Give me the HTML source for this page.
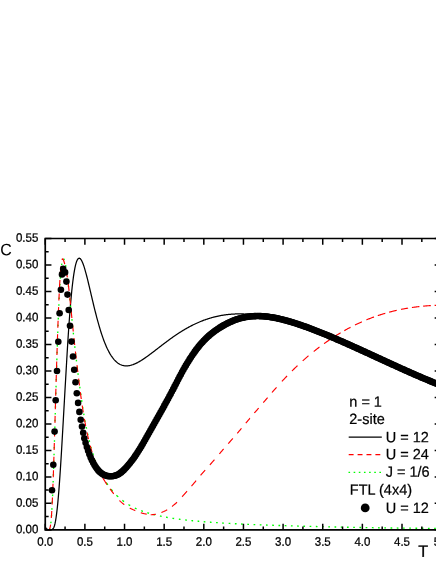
<!DOCTYPE html><html><head><meta charset="utf-8"><title>C vs T</title><style>
html,body{margin:0;padding:0;background:#fff}body{width:436px;height:564px;position:relative;overflow:hidden;font-family:"Liberation Sans",sans-serif;color:#000}
svg text{font-family:"Liberation Sans",sans-serif;fill:#000}
</style></head><body>
<svg width="436" height="564" viewBox="0 0 436 564" style="position:absolute;left:0;top:0"><rect x="0" y="0" width="436" height="564" fill="#fff"/><path d="M45.33,529.85 L46.90,529.85 L48.46,529.85 L50.03,529.85 L51.59,529.71 L51.59,529.71 L52.15,529.51 L52.71,529.14 L53.27,528.49 L53.82,527.47 L54.38,525.98 L54.94,523.91 L55.50,521.19 L56.06,517.74 L56.61,513.64 L57.17,508.96 L57.73,503.57 L58.29,497.49 L58.85,490.75 L59.40,483.39 L59.96,475.47 L60.52,467.04 L61.08,458.19 L61.64,448.98 L62.19,439.48 L62.75,429.78 L63.31,419.95 L63.87,410.06 L64.43,400.18 L64.98,390.38 L65.54,380.71 L66.10,370.99 L66.66,361.21 L67.22,351.74 L67.78,342.65 L68.33,333.97 L68.89,325.73 L69.45,317.96 L70.01,310.67 L70.57,303.87 L71.12,297.58 L71.68,291.79 L72.24,286.52 L72.80,281.74 L73.36,277.45 L73.91,273.64 L74.47,270.30 L75.03,267.41 L75.59,264.95 L76.15,262.90 L76.70,261.25 L77.26,259.98 L77.82,259.06 L78.38,258.47 L78.94,258.19 L79.49,258.20 L80.05,258.48 L80.61,259.02 L81.17,259.78 L81.73,260.75 L82.28,261.92 L82.84,263.27 L83.40,264.77 L83.96,266.41 L84.52,268.18 L85.07,270.07 L85.63,272.05 L86.19,274.12 L86.75,276.26 L87.31,278.46 L87.86,280.72 L88.42,283.02 L88.98,285.34 L89.54,287.70 L90.10,290.07 L90.65,292.44 L91.21,294.82 L91.77,297.20 L92.33,299.56 L92.89,301.91 L93.44,304.24 L94.00,306.54 L94.56,308.81 L95.12,311.06 L95.68,313.26 L96.23,315.43 L96.79,317.56 L97.35,319.65 L97.91,321.69 L98.47,323.69 L99.02,325.64 L99.58,327.54 L100.14,329.40 L100.70,331.20 L101.26,332.95 L101.81,334.65 L102.37,336.30 L102.93,337.90 L103.49,339.44 L104.05,340.94 L104.60,342.38 L105.16,343.77 L105.72,345.11 L106.28,346.40 L106.84,347.64 L107.39,348.84 L107.95,349.98 L108.51,351.07 L109.07,352.12 L109.63,353.13 L110.18,354.08 L110.74,354.99 L111.30,355.86 L111.86,356.68 L112.42,357.47 L112.97,358.21 L113.53,358.91 L114.09,359.57 L114.65,360.19 L115.21,360.77 L115.76,361.32 L116.32,361.83 L116.88,362.31 L117.44,362.75 L118.00,363.16 L118.56,363.53 L119.11,363.88 L119.67,364.19 L120.23,364.48 L120.79,364.73 L121.35,364.96 L121.90,365.16 L122.46,365.33 L123.02,365.48 L123.58,365.60 L124.14,365.70 L124.69,365.77 L125.25,365.83 L125.81,365.86 L126.37,365.87 L126.93,365.86 L127.48,365.82 L128.04,365.77 L128.60,365.71 L129.16,365.62 L129.72,365.52 L130.27,365.40 L130.83,365.26 L131.39,365.11 L131.95,364.94 L132.51,364.76 L133.06,364.57 L133.62,364.36 L134.18,364.14 L134.74,363.91 L135.30,363.66 L135.85,363.41 L136.41,363.14 L136.97,362.86 L137.53,362.58 L138.09,362.28 L138.64,361.98 L139.20,361.66 L139.76,361.34 L140.32,361.01 L140.88,360.67 L141.43,360.33 L141.99,359.98 L142.55,359.62 L143.11,359.26 L143.67,358.89 L144.22,358.51 L144.78,358.13 L145.34,357.75 L145.90,357.36 L146.46,356.96 L147.01,356.57 L147.57,356.16 L148.13,355.76 L148.69,355.35 L149.25,354.94 L149.80,354.53 L150.36,354.11 L150.92,353.69 L151.48,353.27 L152.04,352.85 L152.59,352.42 L153.15,351.99 L153.71,351.57 L154.27,351.14 L154.83,350.71 L155.38,350.28 L155.94,349.85 L156.50,349.41 L157.06,348.98 L157.62,348.55 L158.17,348.12 L158.73,347.69 L159.29,347.25 L159.85,346.82 L160.41,346.39 L160.96,345.96 L161.52,345.53 L162.08,345.10 L162.64,344.68 L163.20,344.25 L163.75,343.82 L164.31,343.40 L164.87,342.98 L165.43,342.56 L165.99,342.14 L166.54,341.72 L167.10,341.30 L167.66,340.89 L168.22,340.48 L168.78,340.07 L169.34,339.66 L169.89,339.25 L170.45,338.85 L171.01,338.45 L171.57,338.05 L172.13,337.65 L172.68,337.25 L173.24,336.86 L173.80,336.47 L174.36,336.09 L174.92,335.70 L175.47,335.32 L176.03,334.94 L176.59,334.57 L177.15,334.20 L177.71,333.83 L178.26,333.46 L178.82,333.09 L179.38,332.73 L179.94,332.38 L180.50,332.02 L181.05,331.67 L181.61,331.32 L182.17,330.98 L182.73,330.64 L183.29,330.30 L183.84,329.96 L184.40,329.63 L184.96,329.30 L185.52,328.98 L186.08,328.65 L186.63,328.34 L187.19,328.02 L187.75,327.71 L188.31,327.40 L188.87,327.10 L189.42,326.79 L189.98,326.50 L190.54,326.20 L191.10,325.91 L191.66,325.62 L192.21,325.34 L192.77,325.06 L193.33,324.78 L193.89,324.51 L194.45,324.24 L195.00,323.98 L195.56,323.71 L196.12,323.45 L196.68,323.20 L197.24,322.95 L197.79,322.70 L198.35,322.46 L198.91,322.22 L199.47,321.98 L200.03,321.74 L200.58,321.51 L201.14,321.29 L201.70,321.07 L202.26,320.85 L202.82,320.63 L203.37,320.42 L203.93,320.21 L204.49,320.01 L205.05,319.80 L205.61,319.61 L206.16,319.41 L206.72,319.22 L207.28,319.04 L207.84,318.85 L208.40,318.67 L208.95,318.50 L209.51,318.32 L210.07,318.15 L210.63,317.99 L211.19,317.83 L211.74,317.67 L212.30,317.51 L212.86,317.36 L213.42,317.21 L213.98,317.07 L214.53,316.93 L215.09,316.79 L215.65,316.65 L216.21,316.52 L216.77,316.39 L217.33,316.27 L217.88,316.15 L218.44,316.03 L219.00,315.92 L219.56,315.80 L220.12,315.70 L220.67,315.59 L221.23,315.49 L221.79,315.39 L222.35,315.30 L222.91,315.21 L223.46,315.12 L224.02,315.04 L224.58,314.95 L225.14,314.88 L225.70,314.80 L226.25,314.73 L226.81,314.66 L227.37,314.59 L227.93,314.53 L228.49,314.47 L229.04,314.41 L229.60,314.36 L230.16,314.31 L230.72,314.26 L231.28,314.22 L231.83,314.18 L232.39,314.14 L232.95,314.10 L233.51,314.07 L234.07,314.04 L234.62,314.02 L235.18,313.99 L235.74,313.97 L236.30,313.95 L236.86,313.94 L237.41,313.93 L237.97,313.92 L238.53,313.91 L239.09,313.91 L239.65,313.91 L240.20,313.91 L240.76,313.91 L241.32,313.92 L241.88,313.93 L242.44,313.94 L242.99,313.96 L243.55,313.98 L244.11,314.00 L244.67,314.02 L245.23,314.05 L245.78,314.07 L246.34,314.10 L246.90,314.14 L247.46,314.17 L248.02,314.21 L248.57,314.25 L249.13,314.30 L249.69,314.34 L250.25,314.39 L250.81,314.44 L251.36,314.50 L251.92,314.55 L252.48,314.61 L253.04,314.67 L253.60,314.73 L254.15,314.80 L254.71,314.86 L255.27,314.93 L255.83,315.01 L256.39,315.08 L256.94,315.16 L257.50,315.23 L258.06,315.31 L258.62,315.40 L259.18,315.48 L259.73,315.57 L260.29,315.66 L260.85,315.75 L261.41,315.84 L261.97,315.94 L262.52,316.04 L263.08,316.14 L263.64,316.24 L264.20,316.34 L264.76,316.45 L265.31,316.56 L265.87,316.66 L266.43,316.78 L266.99,316.89 L267.55,317.00 L268.11,317.12 L268.66,317.24 L269.22,317.36 L269.78,317.48 L270.34,317.61 L270.90,317.74 L271.45,317.86 L272.01,317.99 L272.57,318.13 L273.13,318.26 L273.69,318.39 L274.24,318.53 L274.80,318.67 L275.36,318.81 L275.92,318.95 L276.48,319.09 L277.03,319.24 L277.59,319.39 L278.15,319.53 L278.71,319.68 L279.27,319.84 L279.82,319.99 L280.38,320.14 L280.94,320.30 L281.50,320.46 L282.06,320.62 L282.61,320.78 L283.17,320.94 L283.73,321.10 L284.29,321.27 L284.85,321.43 L285.40,321.60 L285.96,321.77 L286.52,321.94 L287.08,322.11 L287.64,322.29 L288.19,322.46 L288.75,322.64 L289.31,322.81 L289.87,322.99 L290.43,323.17 L290.98,323.35 L291.54,323.53 L292.10,323.72 L292.66,323.90 L293.22,324.09 L293.77,324.27 L294.33,324.46 L294.89,324.65 L295.45,324.84 L296.01,325.03 L296.56,325.23 L297.12,325.42 L297.68,325.61 L298.24,325.81 L298.80,326.01 L299.35,326.20 L299.91,326.40 L300.47,326.60 L301.03,326.81 L301.59,327.01 L302.14,327.21 L302.70,327.41 L303.26,327.62 L303.82,327.83 L304.38,328.03 L304.93,328.24 L305.49,328.45 L306.05,328.66 L306.61,328.87 L307.17,329.08 L307.72,329.29 L308.28,329.51 L308.84,329.72 L309.40,329.94 L309.96,330.15 L310.51,330.37 L311.07,330.58 L311.63,330.80 L312.19,331.02 L312.75,331.24 L313.30,331.46 L313.86,331.68 L314.42,331.90 L314.98,332.13 L315.54,332.35 L316.09,332.57 L316.65,332.80 L317.21,333.02 L317.77,333.25 L318.33,333.48 L318.89,333.71 L319.44,333.93 L320.00,334.16 L320.56,334.39 L321.12,334.62 L321.68,334.85 L322.23,335.08 L322.79,335.31 L323.35,335.55 L323.91,335.78 L324.47,336.01 L325.02,336.25 L325.58,336.48 L326.14,336.72 L326.70,336.95 L327.26,337.19 L327.81,337.42 L328.37,337.66 L328.93,337.90 L329.49,338.14 L330.05,338.38 L330.60,338.61 L331.16,338.85 L331.72,339.09 L332.28,339.33 L332.84,339.57 L333.39,339.82 L333.95,340.06 L334.51,340.30 L335.07,340.54 L335.63,340.78 L336.18,341.03 L336.74,341.27 L337.30,341.51 L337.86,341.76 L338.42,342.00 L338.97,342.25 L339.53,342.49 L340.09,342.74 L340.65,342.98 L341.21,343.23 L341.76,343.48 L342.32,343.72 L342.88,343.97 L343.44,344.22 L344.00,344.46 L344.55,344.71 L345.11,344.96 L345.67,345.21 L346.23,345.46 L346.79,345.70 L347.34,345.95 L347.90,346.20 L348.46,346.45 L349.02,346.70 L349.58,346.95 L350.13,347.20 L350.69,347.45 L351.25,347.70 L351.81,347.95 L352.37,348.20 L352.92,348.45 L353.48,348.70 L354.04,348.96 L354.60,349.21 L355.16,349.46 L355.71,349.71 L356.27,349.96 L356.83,350.21 L357.39,350.46 L357.95,350.72 L358.50,350.97 L359.06,351.22 L359.62,351.47 L360.18,351.73 L360.74,351.98 L361.29,352.23 L361.85,352.48 L362.41,352.74 L362.97,352.99 L363.53,353.24 L364.08,353.49 L364.64,353.75 L365.20,354.00 L365.76,354.25 L366.32,354.51 L366.88,354.76 L367.43,355.01 L367.99,355.27 L368.55,355.52 L369.11,355.77 L369.67,356.02 L370.22,356.28 L370.78,356.53 L371.34,356.78 L371.90,357.04 L372.46,357.29 L373.01,357.54 L373.57,357.80 L374.13,358.05 L374.69,358.30 L375.25,358.55 L375.80,358.81 L376.36,359.06 L376.92,359.31 L377.48,359.57 L378.04,359.82 L378.59,360.07 L379.15,360.32 L379.71,360.58 L380.27,360.83 L380.83,361.08 L381.38,361.33 L381.94,361.58 L382.50,361.84 L383.06,362.09 L383.62,362.34 L384.17,362.59 L384.73,362.84 L385.29,363.09 L385.85,363.35 L386.41,363.60 L386.96,363.85 L387.52,364.10 L388.08,364.35 L388.64,364.60 L389.20,364.85 L389.75,365.10 L390.31,365.35 L390.87,365.60 L391.43,365.85 L391.99,366.10 L392.54,366.35 L393.10,366.60 L393.66,366.85 L394.22,367.10 L394.78,367.35 L395.33,367.60 L395.89,367.85 L396.45,368.09 L397.01,368.34 L397.57,368.59 L398.12,368.84 L398.68,369.09 L399.24,369.33 L399.80,369.58 L400.36,369.83 L400.91,370.08 L401.47,370.32 L402.03,370.57 L402.59,370.82 L403.15,371.06 L403.70,371.31 L404.26,371.55 L404.82,371.80 L405.38,372.04 L405.94,372.29 L406.49,372.53 L407.05,372.78 L407.61,373.02 L408.17,373.27 L408.73,373.51 L409.28,373.76 L409.84,374.00 L410.40,374.24 L410.96,374.49 L411.52,374.73 L412.07,374.97 L412.63,375.21 L413.19,375.46 L413.75,375.70 L414.31,375.94 L414.86,376.18 L415.42,376.42 L415.98,376.66 L416.54,376.90 L417.10,377.14 L417.66,377.38 L418.21,377.62 L418.77,377.86 L419.33,378.10 L419.89,378.34 L420.45,378.58 L421.00,378.82 L421.56,379.06 L422.12,379.30 L422.68,379.53 L423.24,379.77 L423.79,380.01 L424.35,380.25 L424.91,380.48 L425.47,380.72 L426.03,380.96 L426.58,381.19 L427.14,381.43 L427.70,381.66 L428.26,381.90 L428.82,382.13 L429.37,382.37 L429.93,382.60 L430.49,382.83 L431.05,383.07 L431.61,383.30 L432.16,383.53 L432.72,383.77 L433.28,384.00 L433.84,384.23 L434.40,384.46 L434.95,384.69 L435.51,384.93 L436.07,385.16 L436.63,385.39 L437.19,385.62 L437.74,385.85 L438.30,386.08 L438.86,386.31 L439.42,386.54 L439.98,386.76 L440.53,386.99 L441.09,387.22 L441.65,387.45" fill="none" stroke="#000" stroke-width="1.25" stroke-linejoin="round"/><path d="M63.50,258.85 L63.98,259.18 L64.37,260.12 M65.60,265.16 L65.67,265.49 L65.87,266.74 M66.65,271.88 L66.79,272.87 L66.87,273.46 M67.53,278.62 L67.72,280.21 M68.32,285.38 L68.49,286.82 L68.50,286.97 M69.07,292.14 L69.24,293.73 M69.79,298.90 L69.95,300.49 M70.49,305.66 L70.66,307.25 M71.19,312.42 L71.30,313.52 L71.35,314.02 M71.89,319.19 L72.05,320.78 M72.59,325.95 L72.76,327.54 M73.31,332.71 L73.48,334.31 M74.03,339.48 L74.12,340.30 L74.21,341.07 M74.78,346.23 L74.96,347.82 M75.54,352.99 L75.72,354.58 M76.33,359.75 L76.38,360.15 L76.52,361.33 M77.15,366.50 L77.35,368.08 M78.00,373.24 L78.07,373.79 L78.20,374.83 M78.88,379.99 L79.09,381.57 M79.78,386.73 L79.99,388.31 M80.69,393.46 L80.89,394.88 L80.91,395.05 M81.64,400.20 L81.87,401.78 M82.64,406.92 L82.89,408.50 M83.71,413.64 L83.99,415.22 M84.90,420.33 L85.20,421.91 M86.21,427.01 L86.52,428.53 L86.53,428.57 M87.63,433.66 L87.65,433.74 L87.99,435.22 M89.19,440.27 L89.34,440.88 L89.58,441.83 M90.93,446.85 L91.03,447.24 L91.36,448.39 M92.87,453.36 L93.29,454.65 L93.37,454.89 M95.08,459.80 L95.54,461.04 L95.64,461.29 M97.58,466.12 L97.80,466.62 L98.22,467.59 M100.41,472.30 L100.62,472.72 L101.12,473.73 M61.65,265.14 L61.72,264.52 L61.89,263.55 M60.91,271.89 L61.05,270.30 M60.36,278.67 L60.47,277.08 M59.90,285.46 L59.99,283.86 M59.50,292.24 L59.60,290.65 M59.16,299.04 L59.24,297.44 M58.84,305.83 L58.90,304.28 L58.90,304.23 M58.55,312.62 L58.61,311.02 M58.26,319.42 L58.32,317.82 M58.01,326.21 L58.07,324.61 M57.75,333.01 L57.77,332.30 L57.81,331.41 M57.52,339.80 L57.57,338.20 M57.28,346.60 L57.34,345.00 M57.06,353.39 L57.11,351.80 M56.85,360.19 L56.90,358.59 M56.63,366.99 L56.65,366.48 L56.68,365.39 M56.43,373.79 L56.48,372.19 M56.22,380.58 L56.27,378.98 M56.02,387.38 L56.07,385.78 M55.83,394.18 L55.87,392.58 M55.63,400.97 L55.68,399.37 M55.43,407.77 L55.48,406.17 M55.24,414.57 L55.28,412.97 M55.04,421.36 L55.09,419.77 M54.85,428.16 L54.89,426.56 M54.65,434.96 L54.69,433.36 M54.45,441.76 L54.49,440.16 M54.24,448.55 L54.29,446.95 M54.03,455.35 L54.08,453.75 M53.82,462.15 L53.83,461.96 L53.87,460.55 M53.59,468.94 L53.65,467.34 M53.37,475.74 L53.42,474.14 M53.12,482.53 L53.18,480.94 M52.86,489.33 L52.92,487.73 M52.58,496.12 L52.65,494.53 M52.27,502.92 L52.34,501.32 M51.90,509.71 L51.99,508.11 M51.46,516.49 L51.57,515.18 L51.59,514.90 M50.83,523.26 L51.01,521.92 L51.03,521.67 M49.02,529.64 L49.32,529.47 L49.88,528.48 L49.91,528.37 M106.15,482.36 L106.25,482.52 L106.82,483.37 L107.38,484.20 L107.85,484.88 M110.95,489.10 L111.33,489.58 L111.89,490.27 L112.45,490.95 L112.65,491.18 M116.45,495.26 L116.96,495.76 L117.53,496.29 L118.09,496.81 L118.15,496.87 M122.35,500.38 L122.60,500.57 L123.16,500.99 L123.73,501.41 L124.05,501.64 M128.45,504.57 L128.80,504.79 L129.36,505.12 L129.93,505.45 L130.15,505.58 M134.85,508.05 L135.00,508.12 L135.56,508.39 L136.13,508.64 L136.55,508.83 M141.25,510.71 L141.77,510.89 L142.33,511.09 L142.89,511.29 L142.95,511.30 M147.35,512.72 L147.40,512.74 L147.97,512.91 L148.53,513.08 L149.05,513.23 M153.55,514.47 L153.60,514.48 L154.17,514.62 L154.73,514.76 L155.25,514.89 M159.95,515.97 L160.37,516.06 L160.93,516.18 L161.49,516.30 L161.65,516.33 M166.05,517.18 L166.57,517.27 L167.13,517.38 L167.70,517.48 L167.75,517.48 M172.45,518.26 L172.77,518.31 L173.33,518.40 L173.90,518.48 L174.15,518.52 M178.85,519.17 L178.97,519.19 L179.53,519.26 L180.10,519.33 L180.55,519.39 M185.25,519.95 L185.73,520.01 L186.30,520.07 L186.86,520.13 L186.95,520.14 M191.41,520.60 L191.93,520.66 L192.50,520.71 L193.06,520.77 L193.11,520.77 M197.56,521.18 L197.57,521.18 L198.13,521.23 L198.70,521.28 L199.26,521.33 L199.26,521.33 M203.72,521.71 L203.77,521.71 L204.34,521.76 L204.90,521.80 L205.42,521.84 M209.88,522.19 L209.97,522.19 L210.54,522.23 L211.10,522.28 L211.58,522.31 M216.04,522.62 L216.17,522.63 L216.74,522.67 L217.30,522.70 L217.74,522.73 M222.19,523.01 L222.37,523.02 L222.94,523.06 L223.50,523.09 L223.89,523.11 M228.65,523.39 L229.14,523.41 L229.70,523.44 L230.27,523.48 L230.35,523.48 M234.88,523.72 L235.34,523.74 L235.90,523.77 L236.47,523.79 L236.58,523.80 M241.10,524.02 L241.54,524.04 L242.10,524.06 L242.67,524.09 L242.80,524.09 M247.33,524.29 L247.74,524.31 L248.30,524.33 L248.87,524.36 L249.03,524.36 M253.56,524.55 L253.94,524.56 L254.50,524.59 L255.07,524.61 L255.26,524.62 M259.78,524.79 L260.14,524.81 L260.70,524.83 L261.27,524.85 L261.49,524.86 M266.01,525.03 L266.34,525.04 L266.91,525.06 L267.47,525.08 L267.71,525.09 M272.24,525.25 L272.54,525.26 L273.11,525.28 L273.67,525.30 L273.94,525.31 M278.47,525.46 L278.74,525.47 L279.31,525.49 L279.87,525.51 L280.17,525.52 M284.69,525.66 L284.94,525.67 L285.51,525.69 L286.07,525.71 L286.39,525.72 M290.92,525.85 L291.14,525.86 L291.71,525.88 L292.27,525.89 L292.62,525.91 M297.15,526.04 L297.34,526.04 L297.91,526.06 L298.47,526.07 L298.85,526.09 M303.37,526.21 L303.55,526.21 L304.11,526.23 L304.67,526.25 L305.07,526.26 M309.60,526.37 L309.75,526.38 L310.31,526.39 L310.87,526.41 L311.30,526.42 M315.83,526.53 L315.95,526.53 L316.51,526.54 L317.07,526.56 L317.53,526.57 M322.05,526.67 L322.15,526.67 L322.71,526.69 L323.27,526.70 L323.75,526.71 M328.28,526.81 L328.35,526.81 L328.91,526.82 L329.48,526.84 L329.98,526.85 M334.51,526.95 L334.55,526.95 L335.11,526.96 L335.68,526.97 L336.21,526.98 M340.74,527.08 L340.75,527.08 L341.31,527.09 L341.88,527.10 L342.44,527.11 M346.96,527.21 L347.51,527.22 L348.08,527.23 L348.64,527.24 L348.66,527.24 M353.19,527.33 L353.71,527.34 L354.28,527.36 L354.84,527.37 L354.89,527.37 M359.42,527.45 L359.91,527.46 L360.48,527.47 L361.04,527.49 L361.12,527.49 M365.64,527.57 L366.12,527.58 L366.68,527.59 L367.24,527.60 L367.34,527.60 M371.87,527.68 L372.32,527.69 L372.88,527.70 L373.44,527.71 L373.57,527.71 M378.10,527.78 L378.52,527.79 L379.08,527.80 L379.64,527.80 L379.80,527.81 M384.32,527.87 L384.72,527.88 L385.28,527.89 L385.84,527.90 L386.02,527.90 M390.55,527.96 L390.92,527.96 L391.48,527.97 L392.04,527.98 L392.25,527.98 M396.78,528.04 L397.12,528.04 L397.68,528.05 L398.25,528.05 L398.48,528.05 M403.01,528.10 L403.32,528.10 L403.88,528.11 L404.45,528.11 L404.71,528.12 M409.23,528.16 L409.52,528.16 L410.08,528.17 L410.65,528.17 L410.93,528.18 M415.46,528.22 L415.72,528.22 L416.28,528.22 L416.85,528.23 L417.16,528.23 M421.69,528.27 L421.92,528.27 L422.48,528.28 L423.05,528.28 L423.39,528.28 M427.91,528.32 L428.12,528.32 L428.69,528.33 L429.25,528.33 L429.61,528.33 M434.14,528.36 L434.32,528.37 L434.89,528.37 L435.45,528.37 L435.84,528.38 M440.37,528.40 L440.52,528.41 L441.09,528.41 L441.65,528.41 L442.07,528.41 M446.59,528.41 L448.29,528.41" fill="none" stroke="#00ff00" stroke-width="1.35"/><path d="M62.02,259.91 L62.28,259.02 L62.85,258.92 L63.41,259.92 L63.98,261.48 L64.54,263.34 L64.73,264.06 M66.21,270.49 L66.23,270.58 L66.79,273.90 L67.34,277.40 M68.25,283.94 L68.49,285.77 L69.05,290.66 L69.07,290.89 M69.77,297.45 L70.18,301.37 L70.49,304.41 M71.16,310.98 L71.30,312.40 L71.87,317.94 L71.87,317.94 M72.54,324.51 L72.99,328.93 L73.26,331.47 M73.95,338.04 L74.12,339.69 L74.69,344.93 L74.69,345.00 M75.42,351.56 L75.81,355.10 L76.20,358.51 M76.97,365.07 L77.50,369.52 L77.80,372.02 M78.60,378.57 L78.63,378.83 L79.20,383.37 L79.47,385.52 M80.31,392.06 L80.32,392.14 L80.89,396.34 L81.25,399.00 M82.20,405.53 L82.58,408.08 L83.14,411.68 L83.27,412.45 M84.37,418.95 L84.83,421.50 L85.40,424.46 L85.67,425.83 M86.99,432.30 L87.09,432.76 L87.65,435.32 L88.21,437.79 L88.53,439.13 M90.15,445.53 L90.47,446.73 L91.03,448.74 L91.60,450.67 L92.08,452.25 M94.16,458.52 L94.41,459.23 L94.98,460.76 L95.54,462.23 L96.11,463.66 L96.67,465.05 L96.67,465.05 M60.37,273.39 L60.59,270.37 L60.99,266.42 M59.52,286.96 L59.92,279.98 M58.87,300.55 L58.90,299.86 L59.20,293.56 M58.32,314.14 L58.34,313.76 L58.61,307.14 M57.83,327.73 L58.09,320.73 M57.37,341.32 L57.60,334.32 M56.93,354.91 L57.15,347.92 M56.50,368.51 L56.65,363.70 L56.72,361.51 M56.10,382.10 L56.31,375.10 M55.70,395.69 L55.91,388.70 M55.31,409.29 L55.51,402.29 M54.93,422.88 L54.96,421.82 L55.13,415.89 M54.53,436.48 L54.73,429.48 M54.13,450.07 L54.34,443.08 M53.71,463.67 L53.83,459.92 L53.93,456.67 M53.26,477.26 L53.27,477.05 L53.49,470.26 M52.75,490.85 L53.01,483.85 M52.15,504.44 L52.46,497.44 M51.29,518.01 L51.57,514.49 L51.77,511.02 M47.63,529.85 L48.19,529.84 L48.76,529.78 L49.32,529.44 L49.88,528.38 L50.45,525.95 L50.62,524.57 M101.50,475.43 L101.74,475.90 L102.31,476.94 L102.87,477.95 L103.43,478.93 L104.00,479.89 L104.56,480.82 L105.13,481.73 L105.69,482.62 L106.25,483.48 L106.82,484.33 L107.00,484.61 M110.00,488.86 L110.20,489.14 L110.76,489.91 L111.33,490.67 L111.89,491.43 L112.45,492.18 L113.02,492.91 L113.58,493.64 L113.70,493.80 M119.50,500.52 L119.78,500.80 L120.34,501.36 L120.91,501.89 L121.47,502.40 L122.04,502.89 L122.60,503.36 L123.16,503.81 L123.73,504.24 L124.29,504.66 L124.30,504.67 M129.80,508.08 L129.93,508.15 L130.49,508.44 L131.06,508.73 L131.62,509.01 L132.18,509.28 L132.75,509.54 L133.31,509.81 L133.87,510.06 L134.44,510.32 L135.00,510.57 L135.30,510.69 M140.80,512.78 L141.20,512.90 L141.77,513.07 L142.33,513.23 L142.89,513.37 L143.46,513.51 L144.02,513.64 L144.58,513.75 L145.15,513.87 L145.71,513.98 L146.27,514.09 L146.70,514.17 M150.70,514.68 L150.78,514.69 L151.35,514.70 L151.91,514.70 L152.48,514.67 L153.04,514.63 L153.60,514.56 L154.17,514.47 L154.73,514.37 L155.29,514.26 L155.86,514.15 L155.90,514.14 M161.40,512.50 L161.49,512.47 L162.06,512.25 L162.62,512.02 L163.19,511.78 L163.75,511.54 L164.31,511.28 L164.88,511.01 L165.44,510.73 L166.00,510.44 L166.57,510.12 L167.13,509.80 L167.20,509.75 M172.00,506.43 L172.20,506.28 L172.77,505.83 L173.33,505.38 L173.90,504.92 L174.46,504.46 L175.02,503.99 L175.59,503.51 L176.15,503.01 L176.71,502.48 L177.00,502.21 M182.10,496.75 L182.35,496.47 L182.91,495.83 L183.48,495.19 L184.04,494.55 L184.61,493.92 L185.17,493.29 L185.73,492.66 L186.30,492.03 L186.86,491.40 L187.00,491.24 M191.50,486.07 L191.93,485.57 L192.50,484.91 L193.06,484.26 L193.62,483.61 L194.19,482.95 L194.75,482.30 L195.32,481.64 L195.88,480.97 L196.10,480.71 M200.60,475.30 L200.95,474.88 L201.52,474.22 L202.08,473.57 L202.64,472.92 L203.21,472.29 L203.77,471.67 L204.34,471.05 L204.90,470.44 L205.20,470.10 M209.80,464.97 L209.97,464.78 L210.54,464.14 L211.10,463.50 L211.66,462.85 L212.23,462.21 L212.79,461.56 L213.35,460.91 L213.92,460.26 L214.40,459.71 M219.40,453.87 L219.55,453.69 L220.12,453.03 L220.68,452.37 L221.25,451.71 L221.81,451.05 L222.37,450.40 L222.94,449.74 L223.50,449.09 L223.60,448.98 M228.20,443.71 L228.57,443.29 L229.14,442.64 L229.70,442.00 L230.27,441.36 L230.83,440.72 L231.39,440.07 L231.96,439.43 L232.52,438.79 L232.80,438.46 M237.30,433.26 L237.59,432.92 L238.16,432.26 L238.72,431.60 L239.28,430.93 L239.85,430.26 L240.41,429.59 L240.98,428.92 L241.50,428.29 M245.80,423.17 L246.05,422.88 L246.61,422.21 L247.18,421.54 L247.74,420.87 L248.30,420.20 L248.87,419.54 L249.43,418.87 L249.99,418.20 L250.00,418.20 M254.50,412.91 L254.50,412.90 L255.07,412.24 L255.63,411.59 L256.19,410.93 L256.76,410.27 L257.32,409.62 L257.89,408.96 L258.45,408.31 L258.70,408.02 M263.30,402.66 L263.52,402.40 L264.09,401.73 L264.65,401.07 L265.21,400.41 L265.78,399.75 L266.34,399.09 L266.91,398.42 L267.47,397.76 L267.60,397.61 M272.00,392.50 L272.54,391.87 L273.11,391.23 L273.67,390.59 L274.23,389.95 L274.80,389.31 L275.36,388.68 L275.92,388.05 L276.49,387.42 L276.60,387.29 M281.90,381.44 L282.12,381.19 L282.69,380.58 L283.25,379.98 L283.82,379.38 L284.38,378.78 L284.94,378.19 L285.51,377.60 L286.07,377.01 L286.63,376.42 L287.10,375.94 M292.00,370.97 L292.27,370.70 L292.83,370.14 L293.40,369.59 L293.96,369.03 L294.53,368.48 L295.09,367.93 L295.65,367.39 L296.22,366.85 L296.78,366.31 L297.34,365.77 L297.50,365.62 M302.70,360.82 L302.98,360.57 L303.55,360.07 L304.11,359.57 L304.67,359.07 L305.24,358.58 L305.80,358.09 L306.36,357.60 L306.93,357.12 L307.49,356.64 L308.05,356.17 L308.50,355.79 M313.70,351.53 L314.26,351.09 L314.82,350.64 L315.38,350.20 L315.95,349.75 L316.51,349.31 L317.07,348.88 L317.64,348.44 L318.20,348.01 L318.76,347.58 L319.33,347.15 L319.50,347.02 M324.10,343.63 L324.40,343.42 L324.97,343.01 L325.53,342.61 L326.09,342.21 L326.66,341.82 L327.22,341.43 L327.78,341.03 L328.35,340.65 L328.91,340.26 L329.48,339.88 L330.00,339.52 M335.00,336.25 L335.11,336.17 L335.68,335.82 L336.24,335.46 L336.80,335.11 L337.37,334.76 L337.93,334.41 L338.49,334.07 L339.06,333.73 L339.62,333.39 L340.19,333.05 L340.60,332.80 M344.30,330.66 L344.69,330.43 L345.26,330.12 L345.82,329.80 L346.39,329.49 L346.95,329.18 L347.51,328.87 L348.08,328.57 L348.64,328.26 L349.20,327.96 L349.77,327.67 L350.33,327.37 L350.50,327.28 M355.00,325.01 L355.40,324.81 L355.97,324.54 L356.53,324.27 L357.10,324.00 L357.66,323.73 L358.22,323.47 L358.79,323.21 L359.35,322.95 L359.91,322.69 L360.48,322.43 L361.04,322.18 L361.61,321.93 L361.90,321.80 M366.40,319.88 L366.68,319.77 L367.24,319.54 L367.81,319.31 L368.37,319.08 L368.93,318.86 L369.50,318.64 L370.06,318.42 L370.62,318.20 L371.19,317.99 L371.75,317.78 L372.32,317.57 L372.88,317.36 L373.44,317.15 L374.00,316.95 M377.80,315.62 L377.95,315.57 L378.52,315.38 L379.08,315.20 L379.64,315.01 L380.21,314.83 L380.77,314.65 L381.33,314.47 L381.90,314.29 L382.46,314.12 L383.03,313.95 L383.59,313.77 L384.15,313.61 L384.72,313.44 L385.28,313.27 L385.30,313.27 M389.10,312.20 L389.23,312.17 L389.79,312.02 L390.35,311.87 L390.92,311.72 L391.48,311.58 L392.04,311.44 L392.61,311.30 L393.17,311.16 L393.74,311.02 L394.30,310.88 L394.86,310.75 L395.43,310.62 L395.99,310.49 L396.55,310.36 L396.70,310.33 M401.00,309.41 L401.06,309.39 L401.63,309.28 L402.19,309.17 L402.76,309.06 L403.32,308.95 L403.88,308.84 L404.45,308.74 L405.01,308.64 L405.57,308.54 L406.14,308.44 L406.70,308.34 L407.26,308.24 L407.83,308.15 L408.10,308.10 M411.90,307.51 L412.34,307.45 L412.90,307.36 L413.47,307.29 L414.03,307.21 L414.59,307.13 L415.16,307.06 L415.72,306.99 L416.28,306.91 L416.85,306.84 L417.41,306.78 L417.97,306.71 L418.54,306.64 L419.10,306.58 L419.40,306.55 M423.20,306.16 L423.61,306.12 L424.18,306.07 L424.74,306.02 L425.30,305.97 L425.87,305.93 L426.43,305.88 L426.99,305.84 L427.56,305.79 L428.12,305.75 L428.69,305.71 L429.25,305.68 L429.81,305.64 L430.38,305.60 L430.80,305.58 M434.60,305.38 L434.89,305.36 L435.45,305.34 L436.01,305.32 L436.58,305.30 L437.14,305.28 L437.70,305.26 L438.27,305.24 L438.83,305.22 L439.40,305.21 L439.96,305.20 L440.52,305.18 L441.00,305.17" fill="none" stroke="#ff0000" stroke-width="1.15"/><path d="M45.75,526.25 Q46.45,529.25 49.75,529.35 L45.75,529.35 Z" fill="#000"/><g fill="#000"><circle cx="52.00" cy="490.30" r="3.3"/><circle cx="53.30" cy="464.80" r="3.3"/><circle cx="54.60" cy="431.60" r="3.3"/><circle cx="55.70" cy="400.20" r="3.3"/><circle cx="57.00" cy="371.00" r="3.3"/><circle cx="58.30" cy="341.80" r="3.3"/><circle cx="59.60" cy="313.30" r="3.3"/><circle cx="60.90" cy="289.80" r="3.3"/><circle cx="62.00" cy="274.40" r="3.3"/><circle cx="63.20" cy="268.90" r="3.3"/><circle cx="65.10" cy="272.40" r="3.3"/><circle cx="66.40" cy="281.60" r="3.3"/><circle cx="67.50" cy="294.60" r="3.3"/><circle cx="68.70" cy="310.00" r="3.3"/><circle cx="70.00" cy="325.80" r="3.3"/><circle cx="71.50" cy="341.60" r="3.3"/><circle cx="73.00" cy="356.50" r="3.3"/><circle cx="74.20" cy="369.70" r="3.3"/><circle cx="75.50" cy="382.20" r="3.3"/><circle cx="76.80" cy="393.20" r="3.3"/><circle cx="78.10" cy="402.90" r="3.3"/><circle cx="79.40" cy="411.90" r="3.3"/><circle cx="80.70" cy="419.80" r="3.3"/><circle cx="82.00" cy="426.60" r="3.3"/><circle cx="83.20" cy="432.70" r="3.3"/><circle cx="84.30" cy="438.30" r="3.3"/><circle cx="85.57" cy="442.82" r="3.3"/><circle cx="86.84" cy="446.97" r="3.3"/><circle cx="88.11" cy="450.77" r="3.3"/><circle cx="89.38" cy="454.24" r="3.3"/><circle cx="90.65" cy="457.40" r="3.3"/><circle cx="91.92" cy="460.24" r="3.3"/><circle cx="93.19" cy="462.80" r="3.3"/><circle cx="94.46" cy="465.08" r="3.3"/><circle cx="95.73" cy="467.10" r="3.3"/><circle cx="97.00" cy="468.87" r="3.3"/><circle cx="98.27" cy="470.41" r="3.3"/><circle cx="99.54" cy="471.74" r="3.3"/><circle cx="100.81" cy="472.86" r="3.3"/><circle cx="102.08" cy="473.80" r="3.3"/><circle cx="103.35" cy="474.56" r="3.3"/><circle cx="104.62" cy="475.16" r="3.3"/><circle cx="105.89" cy="475.62" r="3.3"/><circle cx="107.16" cy="475.95" r="3.3"/><circle cx="108.43" cy="476.16" r="3.3"/><circle cx="109.70" cy="476.28" r="3.3"/><circle cx="110.97" cy="476.30" r="3.3"/><circle cx="112.24" cy="476.23" r="3.3"/><circle cx="113.51" cy="476.06" r="3.3"/><circle cx="114.78" cy="475.77" r="3.3"/><circle cx="116.05" cy="475.37" r="3.3"/><circle cx="117.32" cy="474.84" r="3.3"/><circle cx="118.59" cy="474.18" r="3.3"/><circle cx="119.86" cy="473.37" r="3.3"/><circle cx="121.13" cy="472.42" r="3.3"/><circle cx="122.40" cy="471.33" r="3.3"/><circle cx="123.67" cy="470.13" r="3.3"/><circle cx="124.94" cy="468.83" r="3.3"/><circle cx="126.21" cy="467.46" r="3.3"/><circle cx="127.48" cy="466.02" r="3.3"/><circle cx="128.75" cy="464.53" r="3.3"/><circle cx="130.02" cy="462.98" r="3.3"/><circle cx="131.29" cy="461.37" r="3.3"/><circle cx="132.56" cy="459.70" r="3.3"/><circle cx="133.83" cy="457.97" r="3.3"/><circle cx="135.10" cy="456.17" r="3.3"/><circle cx="136.37" cy="454.30" r="3.3"/><circle cx="137.64" cy="452.37" r="3.3"/><circle cx="138.91" cy="450.36" r="3.3"/><circle cx="140.18" cy="448.28" r="3.3"/><circle cx="141.45" cy="446.16" r="3.3"/><circle cx="142.72" cy="443.98" r="3.3"/><circle cx="143.99" cy="441.77" r="3.3"/><circle cx="145.26" cy="439.53" r="3.3"/><circle cx="146.53" cy="437.27" r="3.3"/><circle cx="147.80" cy="435.00" r="3.3"/><circle cx="149.07" cy="432.72" r="3.3"/><circle cx="150.34" cy="430.45" r="3.3"/><circle cx="151.61" cy="428.20" r="3.3"/><circle cx="152.88" cy="425.95" r="3.3"/><circle cx="154.15" cy="423.70" r="3.3"/><circle cx="155.42" cy="421.46" r="3.3"/><circle cx="156.69" cy="419.22" r="3.3"/><circle cx="157.96" cy="416.98" r="3.3"/><circle cx="159.23" cy="414.73" r="3.3"/><circle cx="160.50" cy="412.48" r="3.3"/><circle cx="161.77" cy="410.22" r="3.3"/><circle cx="163.04" cy="407.95" r="3.3"/><circle cx="164.31" cy="405.66" r="3.3"/><circle cx="165.58" cy="403.37" r="3.3"/><circle cx="166.85" cy="401.05" r="3.3"/><circle cx="168.12" cy="398.71" r="3.3"/><circle cx="169.39" cy="396.36" r="3.3"/><circle cx="170.66" cy="393.97" r="3.3"/><circle cx="171.93" cy="391.56" r="3.3"/><circle cx="173.20" cy="389.13" r="3.3"/><circle cx="174.47" cy="386.67" r="3.3"/><circle cx="175.74" cy="384.20" r="3.3"/><circle cx="177.01" cy="381.73" r="3.3"/><circle cx="178.28" cy="379.27" r="3.3"/><circle cx="179.55" cy="376.84" r="3.3"/><circle cx="180.82" cy="374.46" r="3.3"/><circle cx="182.09" cy="372.12" r="3.3"/><circle cx="183.36" cy="369.83" r="3.3"/><circle cx="184.63" cy="367.59" r="3.3"/><circle cx="185.90" cy="365.41" r="3.3"/><circle cx="187.17" cy="363.27" r="3.3"/><circle cx="188.44" cy="361.20" r="3.3"/><circle cx="189.71" cy="359.17" r="3.3"/><circle cx="190.98" cy="357.21" r="3.3"/><circle cx="192.25" cy="355.30" r="3.3"/><circle cx="193.52" cy="353.44" r="3.3"/><circle cx="194.79" cy="351.65" r="3.3"/><circle cx="196.06" cy="349.92" r="3.3"/><circle cx="197.33" cy="348.25" r="3.3"/><circle cx="198.60" cy="346.64" r="3.3"/><circle cx="199.87" cy="345.09" r="3.3"/><circle cx="201.14" cy="343.60" r="3.3"/><circle cx="202.41" cy="342.18" r="3.3"/><circle cx="203.68" cy="340.82" r="3.3"/><circle cx="204.95" cy="339.51" r="3.3"/><circle cx="206.22" cy="338.26" r="3.3"/><circle cx="207.49" cy="337.06" r="3.3"/><circle cx="208.76" cy="335.91" r="3.3"/><circle cx="210.03" cy="334.81" r="3.3"/><circle cx="211.30" cy="333.76" r="3.3"/><circle cx="212.57" cy="332.74" r="3.3"/><circle cx="213.84" cy="331.77" r="3.3"/><circle cx="215.11" cy="330.83" r="3.3"/><circle cx="216.38" cy="329.93" r="3.3"/><circle cx="217.65" cy="329.07" r="3.3"/><circle cx="218.92" cy="328.23" r="3.3"/><circle cx="220.19" cy="327.42" r="3.3"/><circle cx="221.46" cy="326.64" r="3.3"/><circle cx="222.73" cy="325.89" r="3.3"/><circle cx="224.00" cy="325.16" r="3.3"/><circle cx="225.27" cy="324.46" r="3.3"/><circle cx="226.54" cy="323.79" r="3.3"/><circle cx="227.81" cy="323.15" r="3.3"/><circle cx="229.08" cy="322.53" r="3.3"/><circle cx="230.35" cy="321.94" r="3.3"/><circle cx="231.62" cy="321.38" r="3.3"/><circle cx="232.89" cy="320.85" r="3.3"/><circle cx="234.16" cy="320.35" r="3.3"/><circle cx="235.43" cy="319.87" r="3.3"/><circle cx="236.70" cy="319.42" r="3.3"/><circle cx="237.97" cy="319.01" r="3.3"/><circle cx="239.24" cy="318.62" r="3.3"/><circle cx="240.51" cy="318.26" r="3.3"/><circle cx="241.78" cy="317.93" r="3.3"/><circle cx="243.05" cy="317.63" r="3.3"/><circle cx="244.32" cy="317.36" r="3.3"/><circle cx="245.59" cy="317.11" r="3.3"/><circle cx="246.86" cy="316.90" r="3.3"/><circle cx="248.13" cy="316.71" r="3.3"/><circle cx="249.40" cy="316.54" r="3.3"/><circle cx="250.67" cy="316.40" r="3.3"/><circle cx="251.94" cy="316.29" r="3.3"/><circle cx="253.21" cy="316.20" r="3.3"/><circle cx="254.48" cy="316.13" r="3.3"/><circle cx="255.75" cy="316.09" r="3.3"/><circle cx="257.02" cy="316.07" r="3.3"/><circle cx="258.29" cy="316.07" r="3.3"/><circle cx="259.56" cy="316.09" r="3.3"/><circle cx="260.83" cy="316.14" r="3.3"/><circle cx="262.10" cy="316.20" r="3.3"/><circle cx="263.37" cy="316.29" r="3.3"/><circle cx="264.64" cy="316.39" r="3.3"/><circle cx="265.91" cy="316.51" r="3.3"/><circle cx="267.18" cy="316.65" r="3.3"/><circle cx="268.45" cy="316.81" r="3.3"/><circle cx="269.72" cy="316.99" r="3.3"/><circle cx="270.99" cy="317.18" r="3.3"/><circle cx="272.26" cy="317.39" r="3.3"/><circle cx="273.53" cy="317.61" r="3.3"/><circle cx="274.80" cy="317.85" r="3.3"/><circle cx="276.07" cy="318.10" r="3.3"/><circle cx="277.34" cy="318.36" r="3.3"/><circle cx="278.61" cy="318.64" r="3.3"/><circle cx="279.88" cy="318.93" r="3.3"/><circle cx="281.15" cy="319.24" r="3.3"/><circle cx="282.42" cy="319.55" r="3.3"/><circle cx="283.69" cy="319.88" r="3.3"/><circle cx="284.96" cy="320.21" r="3.3"/><circle cx="286.23" cy="320.56" r="3.3"/><circle cx="287.50" cy="320.91" r="3.3"/><circle cx="288.77" cy="321.28" r="3.3"/><circle cx="290.04" cy="321.65" r="3.3"/><circle cx="291.31" cy="322.03" r="3.3"/><circle cx="292.58" cy="322.41" r="3.3"/><circle cx="293.85" cy="322.81" r="3.3"/><circle cx="295.12" cy="323.21" r="3.3"/><circle cx="296.39" cy="323.62" r="3.3"/><circle cx="297.66" cy="324.03" r="3.3"/><circle cx="298.93" cy="324.45" r="3.3"/><circle cx="300.20" cy="324.88" r="3.3"/><circle cx="301.47" cy="325.31" r="3.3"/><circle cx="302.74" cy="325.75" r="3.3"/><circle cx="304.01" cy="326.20" r="3.3"/><circle cx="305.28" cy="326.65" r="3.3"/><circle cx="306.55" cy="327.11" r="3.3"/><circle cx="307.82" cy="327.57" r="3.3"/><circle cx="309.09" cy="328.04" r="3.3"/><circle cx="310.36" cy="328.51" r="3.3"/><circle cx="311.63" cy="328.99" r="3.3"/><circle cx="312.90" cy="329.47" r="3.3"/><circle cx="314.17" cy="329.96" r="3.3"/><circle cx="315.44" cy="330.45" r="3.3"/><circle cx="316.71" cy="330.95" r="3.3"/><circle cx="317.98" cy="331.45" r="3.3"/><circle cx="319.25" cy="331.96" r="3.3"/><circle cx="320.52" cy="332.47" r="3.3"/><circle cx="321.79" cy="332.98" r="3.3"/><circle cx="323.06" cy="333.50" r="3.3"/><circle cx="324.33" cy="334.02" r="3.3"/><circle cx="325.60" cy="334.54" r="3.3"/><circle cx="326.87" cy="335.07" r="3.3"/><circle cx="328.14" cy="335.60" r="3.3"/><circle cx="329.41" cy="336.13" r="3.3"/><circle cx="330.68" cy="336.66" r="3.3"/><circle cx="331.95" cy="337.20" r="3.3"/><circle cx="333.22" cy="337.74" r="3.3"/><circle cx="334.49" cy="338.29" r="3.3"/><circle cx="335.76" cy="338.83" r="3.3"/><circle cx="337.03" cy="339.38" r="3.3"/><circle cx="338.30" cy="339.93" r="3.3"/><circle cx="339.57" cy="340.48" r="3.3"/><circle cx="340.84" cy="341.04" r="3.3"/><circle cx="342.11" cy="341.59" r="3.3"/><circle cx="343.38" cy="342.15" r="3.3"/><circle cx="344.65" cy="342.71" r="3.3"/><circle cx="345.92" cy="343.27" r="3.3"/><circle cx="347.19" cy="343.84" r="3.3"/><circle cx="348.46" cy="344.40" r="3.3"/><circle cx="349.73" cy="344.97" r="3.3"/><circle cx="351.00" cy="345.54" r="3.3"/><circle cx="352.27" cy="346.11" r="3.3"/><circle cx="353.54" cy="346.68" r="3.3"/><circle cx="354.81" cy="347.25" r="3.3"/><circle cx="356.08" cy="347.83" r="3.3"/><circle cx="357.35" cy="348.40" r="3.3"/><circle cx="358.62" cy="348.98" r="3.3"/><circle cx="359.89" cy="349.56" r="3.3"/><circle cx="361.16" cy="350.14" r="3.3"/><circle cx="362.43" cy="350.71" r="3.3"/><circle cx="363.70" cy="351.29" r="3.3"/><circle cx="364.97" cy="351.88" r="3.3"/><circle cx="366.24" cy="352.46" r="3.3"/><circle cx="367.51" cy="353.04" r="3.3"/><circle cx="368.78" cy="353.62" r="3.3"/><circle cx="370.05" cy="354.21" r="3.3"/><circle cx="371.32" cy="354.79" r="3.3"/><circle cx="372.59" cy="355.38" r="3.3"/><circle cx="373.86" cy="355.96" r="3.3"/><circle cx="375.13" cy="356.54" r="3.3"/><circle cx="376.40" cy="357.13" r="3.3"/><circle cx="377.67" cy="357.71" r="3.3"/><circle cx="378.94" cy="358.30" r="3.3"/><circle cx="380.21" cy="358.88" r="3.3"/><circle cx="381.48" cy="359.47" r="3.3"/><circle cx="382.75" cy="360.05" r="3.3"/><circle cx="384.02" cy="360.64" r="3.3"/><circle cx="385.29" cy="361.22" r="3.3"/><circle cx="386.56" cy="361.81" r="3.3"/><circle cx="387.83" cy="362.39" r="3.3"/><circle cx="389.10" cy="362.97" r="3.3"/><circle cx="390.37" cy="363.55" r="3.3"/><circle cx="391.64" cy="364.14" r="3.3"/><circle cx="392.91" cy="364.72" r="3.3"/><circle cx="394.18" cy="365.30" r="3.3"/><circle cx="395.45" cy="365.87" r="3.3"/><circle cx="396.72" cy="366.45" r="3.3"/><circle cx="397.99" cy="367.03" r="3.3"/><circle cx="399.26" cy="367.60" r="3.3"/><circle cx="400.53" cy="368.18" r="3.3"/><circle cx="401.80" cy="368.75" r="3.3"/><circle cx="403.07" cy="369.32" r="3.3"/><circle cx="404.34" cy="369.89" r="3.3"/><circle cx="405.61" cy="370.46" r="3.3"/><circle cx="406.88" cy="371.03" r="3.3"/><circle cx="408.15" cy="371.60" r="3.3"/><circle cx="409.42" cy="372.16" r="3.3"/><circle cx="410.69" cy="372.72" r="3.3"/><circle cx="411.96" cy="373.28" r="3.3"/><circle cx="413.23" cy="373.84" r="3.3"/><circle cx="414.50" cy="374.40" r="3.3"/><circle cx="415.77" cy="374.95" r="3.3"/><circle cx="417.04" cy="375.50" r="3.3"/><circle cx="418.31" cy="376.06" r="3.3"/><circle cx="419.58" cy="376.60" r="3.3"/><circle cx="420.85" cy="377.15" r="3.3"/><circle cx="422.12" cy="377.69" r="3.3"/><circle cx="423.39" cy="378.23" r="3.3"/><circle cx="424.66" cy="378.77" r="3.3"/><circle cx="425.93" cy="379.31" r="3.3"/><circle cx="427.20" cy="379.84" r="3.3"/><circle cx="428.47" cy="380.37" r="3.3"/><circle cx="429.74" cy="380.90" r="3.3"/><circle cx="431.01" cy="381.42" r="3.3"/><circle cx="432.28" cy="381.94" r="3.3"/><circle cx="433.55" cy="382.46" r="3.3"/><circle cx="434.82" cy="382.98" r="3.3"/><circle cx="436.09" cy="383.49" r="3.3"/><circle cx="437.36" cy="384.00" r="3.3"/><circle cx="438.63" cy="384.51" r="3.3"/><circle cx="439.90" cy="385.01" r="3.3"/></g><g stroke="#000" stroke-width="1.7" fill="none" stroke-linecap="butt"><path d="M45.25,237.665 V530.7 M44.4,529.85 H438 M44.4,238.515 H438 M441.65,238.515 V529.85"/></g><path d="M45.25,529.85 v-6.2 M45.25,238.515 v6.2 M65.07,529.85 v-3.4 M65.07,238.515 v3.4 M84.89,529.85 v-6.2 M84.89,238.515 v6.2 M104.71,529.85 v-3.4 M104.71,238.515 v3.4 M124.53,529.85 v-6.2 M124.53,238.515 v6.2 M144.35,529.85 v-3.4 M144.35,238.515 v3.4 M164.17,529.85 v-6.2 M164.17,238.515 v6.2 M183.99,529.85 v-3.4 M183.99,238.515 v3.4 M203.81,529.85 v-6.2 M203.81,238.515 v6.2 M223.63,529.85 v-3.4 M223.63,238.515 v3.4 M243.45,529.85 v-6.2 M243.45,238.515 v6.2 M263.27,529.85 v-3.4 M263.27,238.515 v3.4 M283.09,529.85 v-6.2 M283.09,238.515 v6.2 M302.91,529.85 v-3.4 M302.91,238.515 v3.4 M322.73,529.85 v-6.2 M322.73,238.515 v6.2 M342.55,529.85 v-3.4 M342.55,238.515 v3.4 M362.37,529.85 v-6.2 M362.37,238.515 v6.2 M382.19,529.85 v-3.4 M382.19,238.515 v3.4 M402.01,529.85 v-6.2 M402.01,238.515 v6.2 M421.83,529.85 v-3.4 M421.83,238.515 v3.4 M441.65,529.85 v-6.2 M441.65,238.515 v6.2 M45.25,529.85 h6.2 M441.65,529.85 h-7.0 M45.25,516.61 h3.4 M441.65,516.61 h-4.2 M45.25,503.37 h6.2 M441.65,503.37 h-7.0 M45.25,490.12 h3.4 M441.65,490.12 h-4.2 M45.25,476.88 h6.2 M441.65,476.88 h-7.0 M45.25,463.64 h3.4 M441.65,463.64 h-4.2 M45.25,450.39 h6.2 M441.65,450.39 h-7.0 M45.25,437.15 h3.4 M441.65,437.15 h-4.2 M45.25,423.91 h6.2 M441.65,423.91 h-7.0 M45.25,410.67 h3.4 M441.65,410.67 h-4.2 M45.25,397.43 h6.2 M441.65,397.43 h-7.0 M45.25,384.18 h3.4 M441.65,384.18 h-4.2 M45.25,370.94 h6.2 M441.65,370.94 h-7.0 M45.25,357.70 h3.4 M441.65,357.70 h-4.2 M45.25,344.45 h6.2 M441.65,344.45 h-7.0 M45.25,331.21 h3.4 M441.65,331.21 h-4.2 M45.25,317.97 h6.2 M441.65,317.97 h-7.0 M45.25,304.73 h3.4 M441.65,304.73 h-4.2 M45.25,291.49 h6.2 M441.65,291.49 h-7.0 M45.25,278.24 h3.4 M441.65,278.24 h-4.2 M45.25,265.00 h6.2 M441.65,265.00 h-7.0 M45.25,251.76 h3.4 M441.65,251.76 h-4.2 M45.25,238.51 h6.2 M441.65,238.51 h-7.0" stroke="#000" stroke-width="1.5" fill="none"/><path d="M348.7,437.1 H381.8" stroke="#000" stroke-width="1.2"/><path d="M348.7,454.6 H382" stroke="#ff0000" stroke-width="1.15" stroke-dasharray="4.9 4.0"/><path d="M348.5,472.3 H382" stroke="#00ff00" stroke-width="1.35" stroke-dasharray="1.6 3.55"/><circle cx="365.2" cy="507.9" r="4.4" fill="#000"/></svg>
<svg width="436" height="564" viewBox="0 0 436 564" style="position:absolute;left:0;top:0;will-change:opacity"><text transform="translate(38.30,533.15) rotate(0.05) scale(1,1.06)" font-size="11.5" text-anchor="end" stroke="#000" stroke-width="0.25">0.00</text><text transform="translate(38.30,506.67) rotate(0.05) scale(1,1.06)" font-size="11.5" text-anchor="end" stroke="#000" stroke-width="0.25">0.05</text><text transform="translate(38.30,480.18) rotate(0.05) scale(1,1.06)" font-size="11.5" text-anchor="end" stroke="#000" stroke-width="0.25">0.10</text><text transform="translate(38.30,453.69) rotate(0.05) scale(1,1.06)" font-size="11.5" text-anchor="end" stroke="#000" stroke-width="0.25">0.15</text><text transform="translate(38.30,427.21) rotate(0.05) scale(1,1.06)" font-size="11.5" text-anchor="end" stroke="#000" stroke-width="0.25">0.20</text><text transform="translate(38.30,400.73) rotate(0.05) scale(1,1.06)" font-size="11.5" text-anchor="end" stroke="#000" stroke-width="0.25">0.25</text><text transform="translate(38.30,374.24) rotate(0.05) scale(1,1.06)" font-size="11.5" text-anchor="end" stroke="#000" stroke-width="0.25">0.30</text><text transform="translate(38.30,347.75) rotate(0.05) scale(1,1.06)" font-size="11.5" text-anchor="end" stroke="#000" stroke-width="0.25">0.35</text><text transform="translate(38.30,321.27) rotate(0.05) scale(1,1.06)" font-size="11.5" text-anchor="end" stroke="#000" stroke-width="0.25">0.40</text><text transform="translate(38.30,294.79) rotate(0.05) scale(1,1.06)" font-size="11.5" text-anchor="end" stroke="#000" stroke-width="0.25">0.45</text><text transform="translate(38.30,268.30) rotate(0.05) scale(1,1.06)" font-size="11.5" text-anchor="end" stroke="#000" stroke-width="0.25">0.50</text><text transform="translate(38.30,241.81) rotate(0.05) scale(1,1.06)" font-size="11.5" text-anchor="end" stroke="#000" stroke-width="0.25">0.55</text><text transform="translate(45.25,545.75) rotate(0.05) scale(1,1.06)" font-size="11.5" text-anchor="middle" stroke="#000" stroke-width="0.25">0.0</text><text transform="translate(84.89,545.75) rotate(0.05) scale(1,1.06)" font-size="11.5" text-anchor="middle" stroke="#000" stroke-width="0.25">0.5</text><text transform="translate(124.53,545.75) rotate(0.05) scale(1,1.06)" font-size="11.5" text-anchor="middle" stroke="#000" stroke-width="0.25">1.0</text><text transform="translate(164.17,545.75) rotate(0.05) scale(1,1.06)" font-size="11.5" text-anchor="middle" stroke="#000" stroke-width="0.25">1.5</text><text transform="translate(203.81,545.75) rotate(0.05) scale(1,1.06)" font-size="11.5" text-anchor="middle" stroke="#000" stroke-width="0.25">2.0</text><text transform="translate(243.45,545.75) rotate(0.05) scale(1,1.06)" font-size="11.5" text-anchor="middle" stroke="#000" stroke-width="0.25">2.5</text><text transform="translate(283.09,545.75) rotate(0.05) scale(1,1.06)" font-size="11.5" text-anchor="middle" stroke="#000" stroke-width="0.25">3.0</text><text transform="translate(322.73,545.75) rotate(0.05) scale(1,1.06)" font-size="11.5" text-anchor="middle" stroke="#000" stroke-width="0.25">3.5</text><text transform="translate(362.37,545.75) rotate(0.05) scale(1,1.06)" font-size="11.5" text-anchor="middle" stroke="#000" stroke-width="0.25">4.0</text><text transform="translate(402.01,545.75) rotate(0.05) scale(1,1.06)" font-size="11.5" text-anchor="middle" stroke="#000" stroke-width="0.25">4.5</text><text transform="translate(441.65,545.75) rotate(0.05) scale(1,1.06)" font-size="11.5" text-anchor="middle" stroke="#000" stroke-width="0.25">5.0</text><text transform="translate(349.30,406.70) rotate(0.05) scale(1,1.03)" font-size="14.5" text-anchor="start" stroke="#000" stroke-width="0.22">n = 1</text><text transform="translate(349.30,423.90) rotate(0.05) scale(1,1.03)" font-size="14.5" text-anchor="start" stroke="#000" stroke-width="0.22">2-site</text><text transform="translate(385.70,442.20) rotate(0.05) scale(1,1.03)" font-size="14.5" text-anchor="start" stroke="#000" stroke-width="0.22">U = 12</text><text transform="translate(385.70,459.20) rotate(0.05) scale(1,1.03)" font-size="14.5" text-anchor="start" stroke="#000" stroke-width="0.22">U = 24</text><text transform="translate(385.70,476.70) rotate(0.05) scale(1,1.03)" font-size="14.5" text-anchor="start" stroke="#000" stroke-width="0.22">J = 1/6</text><text transform="translate(349.80,494.80) rotate(0.05) scale(1,1.03)" font-size="14.5" text-anchor="start" stroke="#000" stroke-width="0.22">FTL (4x4)</text><text transform="translate(385.70,513.00) rotate(0.05) scale(1,1.03)" font-size="14.5" text-anchor="start" stroke="#000" stroke-width="0.22">U = 12</text><text transform="translate(0.20,255.30) rotate(0.05) scale(1,1.04)" font-size="16" text-anchor="start">C</text><text transform="translate(418.20,556.70) rotate(0.05) scale(1,1.0)" font-size="16.2" text-anchor="start" stroke="#000" stroke-width="0.3">T</text></svg>
</body></html>
